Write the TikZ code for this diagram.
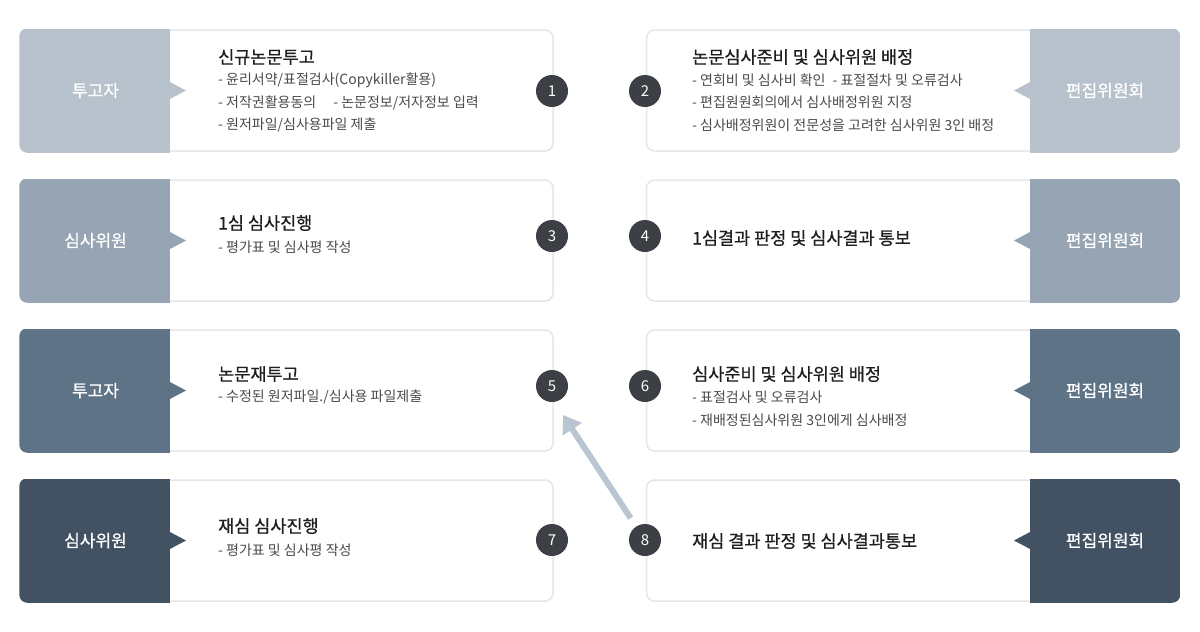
\documentclass[tikz,border=0pt]{standalone}
\usepackage{fontspec}
\setmainfont{Noto Sans CJK KR}
\newfontfamily\krmid[FakeBold=0.6]{Noto Sans CJK KR}
\usetikzlibrary{arrows.meta}
\definecolor{cA}{HTML}{B8C2CC}
\definecolor{cB}{HTML}{97A4B3}
\definecolor{cC}{HTML}{5F7387}
\definecolor{cD}{HTML}{435263}
\definecolor{numc}{HTML}{3C3F44}
\definecolor{bord}{HTML}{E4E6E8}
\definecolor{arrc}{HTML}{B9C5D0}
\definecolor{ttl}{HTML}{1E1E1E}
\definecolor{dtl}{HTML}{4A4A4A}
\tikzset{
  card/.style={draw=bord, line width=1.5pt, rounded corners=8pt, fill=white, inner sep=0pt, minimum width=532pt, minimum height=121pt},
  role/.style={text=white, font=\fontsize{17}{19}\selectfont\krmid, inner sep=0pt},
  ttlnode/.style={anchor=west, text=ttl, font=\fontsize{17.5}{20}\selectfont\krmid, inner sep=0pt},
  dtlnode/.style={anchor=west, text=dtl, font=\fontsize{14}{16}\selectfont, inner sep=0pt},
  numnode/.style={circle, fill=numc, minimum size=32pt, inner sep=0pt, text=white, font=\fontsize{15}{17}\selectfont},
  arrowline/.style={draw=arrc, line width=6pt, -{Triangle[length=17pt,width=22pt]}, shorten <=10pt}
}
\begin{document}
\begin{tikzpicture}[x=1pt,y=-1pt]
\useasboundingbox (0,0) rectangle (1200,632);
% ---------- cards ----------
\node[card] (L1) at (287,90.5) {};
\node[card] (R1) at (912.5,90.5) {};
\node[card] (L2) at (287,240.5) {};
\node[card] (R2) at (912.5,240.5) {};
\node[card] (L3) at (287,390.5) {};
\node[card] (R3) at (912.5,390.5) {};
\node[card] (L4) at (287,540.5) {};
\node[card] (R4) at (912.5,540.5) {};
% ---------- coloured role panels ----------
\foreach \n/\c/\yc in {1/cA/90.5,2/cB/240.5,3/cC/390.5,4/cD/540.5}{
  \begin{scope}
    \clip[rounded corners=8pt] ([shift={(-1,-1)}]L\n.north west) rectangle ([shift={(1,1)}]L\n.south east);
    \fill[\c] (19,\yc-62) rectangle (170,\yc+62);
  \end{scope}
  \fill[\c] (169,\yc-9) -- (186,\yc) -- (169,\yc+9) -- cycle;
  \begin{scope}
    \clip[rounded corners=8pt] ([shift={(-1,-1)}]R\n.north west) rectangle ([shift={(1,1)}]R\n.south east);
    \fill[\c] (1030,\yc-62) rectangle (1181,\yc+62);
  \end{scope}
  \fill[\c] (1031,\yc-9) -- (1014,\yc) -- (1031,\yc+9) -- cycle;
}
% ---------- role labels ----------
\node[role] (rl1) at (95.5,90.5) {투고자};
\node[role] (rr1) at (1105,90.5) {편집위원회};
\node[role] (rl2) at (95.5,240.5) {심사위원};
\node[role] (rr2) at (1105,240.5) {편집위원회};
\node[role] (rl3) at (95.5,390.5) {투고자};
\node[role] (rr3) at (1105,390.5) {편집위원회};
\node[role] (rl4) at (95.5,540.5) {심사위원};
\node[role] (rr4) at (1105,540.5) {편집위원회};
% ---------- texts row 1 ----------
\node[ttlnode] (t1) at (218,57) {신규논문투고};
\node[dtlnode] (d1a) at (218,80) {- 윤리서약/표절검사(Copykiller활용)};
\node[dtlnode] (d1b) at (218,102.5) {- 저작권활용동의\hspace{17pt}- 논문정보/저자정보 입력};
\node[dtlnode] (d1c) at (218,125) {- 원저파일/심사용파일 제출};
\node[ttlnode] (t2) at (692,57) {논문심사준비 및 심사위원 배정};
\node[dtlnode] (d2a) at (692,80) {- 연회비 및 심사비 확인\hspace{7pt}- 표절절차 및 오류검사};
\node[dtlnode] (d2b) at (692,102.5) {- 편집원원회의에서 심사배정위원 지정};
\node[dtlnode] (d2c) at (692,125) {- 심사배정위원이 전문성을 고려한 심사위원 3인 배정};
% ---------- texts row 2 ----------
\node[ttlnode] (t3) at (218,223) {1심 심사진행};
\node[dtlnode] (d3a) at (218,247) {- 평가표 및 심사평 작성};
\node[ttlnode] (t4) at (692,238) {1심결과 판정 및 심사결과 통보};
% ---------- texts row 3 ----------
\node[ttlnode] (t5) at (218,374) {논문재투고};
\node[dtlnode] (d5a) at (218,397) {- 수정된 원저파일./심사용 파일제출};
\node[ttlnode] (t6) at (692,374) {심사준비 및 심사위원 배정};
\node[dtlnode] (d6a) at (692,397) {- 표절검사 및 오류검사};
\node[dtlnode] (d6b) at (692,420) {- 재배정된심사위원 3인에게 심사배정};
% ---------- texts row 4 ----------
\node[ttlnode] (t7) at (218,526) {재심 심사진행};
\node[dtlnode] (d7a) at (218,550) {- 평가표 및 심사평 작성};
\node[ttlnode] (t8) at (692,541) {재심 결과 판정 및 심사결과통보};
% ---------- number circles ----------
\node[numnode] (n1) at (552,91) {1};
\node[numnode] (n2) at (645,91) {2};
\node[numnode] (n3) at (552,236) {3};
\node[numnode] (n4) at (645,236) {4};
\node[numnode] (n5) at (552,386) {5};
\node[numnode] (n6) at (645,386) {6};
\node[numnode] (n7) at (552,540) {7};
\node[numnode] (n8) at (645,540) {8};
% ---------- return arrow ----------
\coordinate (a5) at (563,415);
\draw[arrowline] (n8) -- (a5);
\end{tikzpicture}
\end{document}
